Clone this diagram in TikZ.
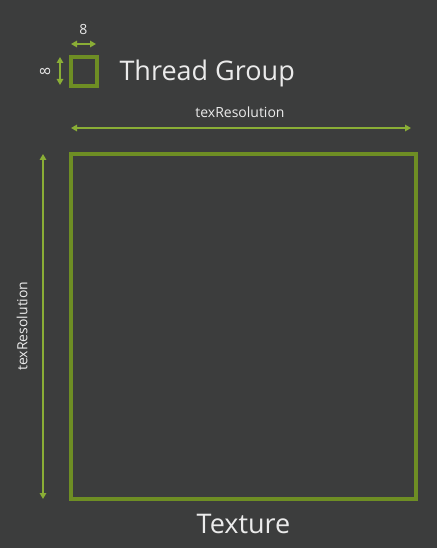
\documentclass[tikz,border=0pt]{standalone}
\usepackage{fontspec}
\setmainfont{Open Sans}
\usetikzlibrary{arrows.meta, positioning}
\definecolor{bgray}{HTML}{3C3D3D}
\definecolor{olive}{HTML}{6E8E24}
\definecolor{lime}{HTML}{8AAE36}

\begin{document}
\begin{tikzpicture}[x=1pt, y=-1pt,
    frame/.style={draw=olive, line width=4pt, fill=none, inner sep=0pt},
    dim/.style={draw=lime, line width=1.8pt, {Triangle[length=6pt,width=6.5pt]}-{Triangle[length=6pt,width=6.5pt]}},
    lbl/.style={text=white!92!black, font=\fontsize{14}{16}\selectfont, inner sep=1pt}]
        \fill[bgray] (0,0) rectangle (437,548);
        \useasboundingbox (0,0) rectangle (437,548);

        % thread group
        \node[frame, minimum width=26pt, minimum height=29pt] (grp) at (83.5,71.5) {};
        \node[text=white!92!black, font=\fontsize{27}{32}\selectfont, anchor=west] (grplbl) at (116,73) {Thread Group};
        \coordinate (gl) at (71,44);
        \coordinate (gr) at (96,44);
        \coordinate (gt) at (60,57);
        \coordinate (gb) at (60,85);
        \draw[dim] (gl) -- (gr);
        \draw[dim] (gt) -- (gb);
        \node[lbl, above=8pt of gl, xshift=12.5pt] (gw) {8};
        \node[lbl, rotate=90] (gh) at (45,71) {8};

        % texture
        \node[frame, minimum width=345pt, minimum height=345pt] (tex) at (243.5,326.5) {};
        \node[text=white!92!black, font=\fontsize{27}{30}\selectfont, below=10pt of tex] (texlbl) {Texture};
        \coordinate (tl) at (71,128);
        \coordinate (tr) at (411,128);
        \coordinate (tt) at (43,154);
        \coordinate (tb) at (43,499);
        \draw[dim] (tl) -- (tr);
        \draw[dim] (tt) -- (tb);
        \node[lbl] (tw) at (240,112) {texResolution};
        \node[lbl, rotate=90] (th) at (22,326) {texResolution};
\end{tikzpicture}
\end{document}
